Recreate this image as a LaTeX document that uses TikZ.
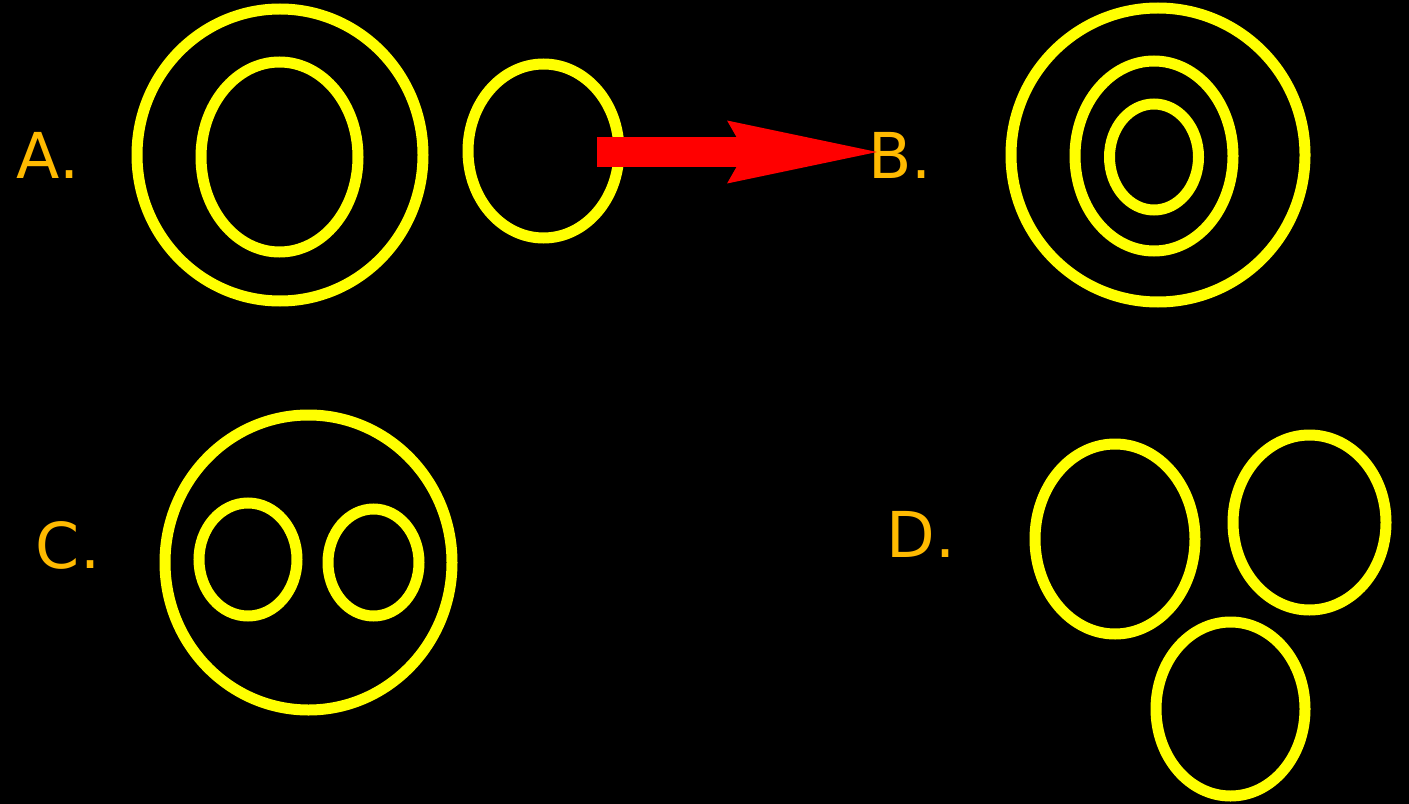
\documentclass[tikz,border=0pt]{standalone}
\usepackage{fontspec}
\setmainfont{DejaVu Sans}
\usetikzlibrary{arrows.meta}
\definecolor{ringyellow}{RGB}{255,255,0}
\definecolor{labelorange}{RGB}{255,186,0}

\begin{document}
\begin{tikzpicture}[x=0.02cm, y=-0.02cm, ring/.style = {draw=ringyellow, line width=0.22cm}, lab/.style = {text=labelorange, inner sep=0pt, font=\fontsize{36}{40}\selectfont}]
        \fill[black] (0,0) rectangle (1409,804);

        \node[lab] (A) at (48,155) {A.};
        \node[lab] (B) at (900,155) {B.};
        \node[lab] (C) at (68,545) {C.};
        \node[lab] (D) at (921,534) {D.};

        % A
        \draw[ring] (280,155) ellipse [x radius=143, y radius=146];
        \draw[ring] (279.5,157) ellipse [x radius=78.5, y radius=95];
        \draw[ring] (543.5,151) ellipse [x radius=75.5, y radius=87];
        % B
        \draw[ring] (1158,155) ellipse [x radius=147, y radius=147];
        \draw[ring] (1154,156) ellipse [x radius=79, y radius=95];
        \draw[ring] (1154,157) ellipse [x radius=44.5, y radius=53];
        % C
        \draw[ring] (308.5,562.5) ellipse [x radius=143.5, y radius=147.5];
        \draw[ring] (248,559.5) ellipse [x radius=49, y radius=56.5];
        \draw[ring] (373.5,562.5) ellipse [x radius=45.5, y radius=53.5];
        % D
        \draw[ring] (1115,539) ellipse [x radius=80, y radius=95];
        \draw[ring] (1309.5,522.5) ellipse [x radius=76.5, y radius=87.5];
        \draw[ring] (1230.5,709) ellipse [x radius=74.5, y radius=87];

        \coordinate (tail) at (597,152);
        \coordinate (tip) at (877,152);
        \draw[red, line width=0.6cm, -{Stealth[length=3cm, width=1.26cm, inset=0.36cm, line width=0pt]}] (tail) -- (tip);

    \end{tikzpicture}
\end{document}
